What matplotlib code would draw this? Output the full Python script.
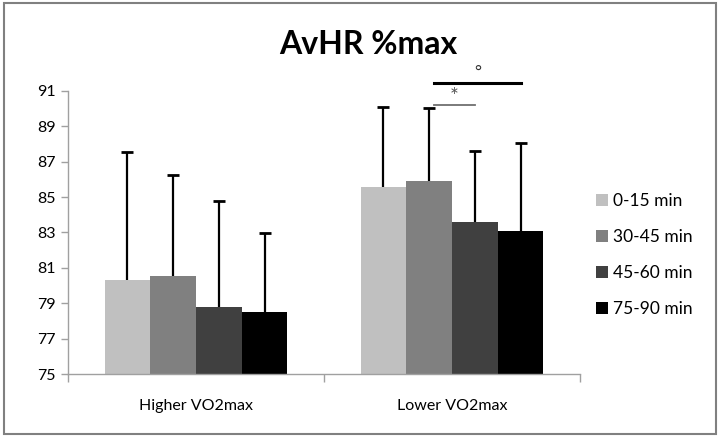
import matplotlib
matplotlib.use("Agg")
import matplotlib.pyplot as plt
import numpy as np
from matplotlib.patches import Rectangle

plt.rcParams['font.family'] = ['Lato', 'DejaVu Sans']

groups = ["Higher VO2max", "Lower VO2max"]
series = ["0-15 min", "30-45 min", "45-60 min", "75-90 min"]
colors = ["#C0C0C0", "#808080", "#404040", "#000000"]
means = {
    "0-15 min": [80.34, 85.56],
    "30-45 min": [80.57, 85.93],
    "45-60 min": [78.77, 83.61],
    "75-90 min": [78.50, 83.06],
}
sd = {
    "0-15 min": [7.19, 4.52],
    "30-45 min": [5.68, 4.09],
    "45-60 min": [6.00, 3.98],
    "75-90 min": [4.47, 5.01],
}
yticks = [75, 77, 79, 81, 83, 85, 87, 89, 91]

fig = plt.figure(figsize=(7.2, 4.37), dpi=100)
ax = fig.add_axes([0.0944, 0.1435, 0.7112, 0.649])

x = np.arange(len(groups))
width = 0.714 / len(series)
offsets = (np.arange(len(series)) - (len(series) - 1) / 2) * width
centers = {}
for name, col, off in zip(series, colors, offsets):
    pos = x + off
    centers[name] = pos
    ax.bar(pos, [m - 75 for m in means[name]], width, bottom=75, color=col,
           label=name, linewidth=0, zorder=2)
    eb = ax.errorbar(pos, means[name], yerr=[np.zeros(len(groups)), sd[name]],
                     fmt='none', ecolor='black', elinewidth=1.6, capsize=4.5,
                     capthick=2, zorder=3)
    # upper error only: hide the cap sitting on the bar top
    for cap in eb.lines[1]:
        if np.allclose(cap.get_ydata(), means[name]):
            cap.set_visible(False)

# significance markers for the lower VO2max group
x2 = centers["30-45 min"][1] + 0.02
x3 = centers["45-60 min"][1]
x4 = centers["75-90 min"][1]
ax.plot([x2, x3], [90.18, 90.18], color='#707070', lw=1.3, clip_on=False)
ax.text((x2 + x3) / 2, 90.1, "*", ha='center', va='bottom', fontsize=15,
        color='#555555')
ax.plot([x2, x4], [91.43, 91.43], color='black', lw=2.2, clip_on=False)
ax.text((x2 + x4) / 2, 91.62, "°", ha='center', va='bottom', fontsize=12,
        color='#333333')

ax.set_xlim(-0.5, 1.5)
ax.set_ylim(75, 91)
ax.set_yticks(yticks)
ax.set_yticklabels([str(t) for t in yticks], fontsize=11.5)
ax.set_xticks([-0.5, 0.5, 1.5])
ax.set_xticklabels([])
ax.tick_params(axis='x', length=6, color='#A0A0A0', width=1)
ax.tick_params(axis='y', length=5, color='#A0A0A0', width=1, pad=4)
for g, xi in zip(groups, x):
    ax.text(xi, 73.2, g, ha='center', va='center', fontsize=11.5)

for s in ['top', 'right']:
    ax.spines[s].set_visible(False)
for s in ['left', 'bottom']:
    ax.spines[s].set_color('#A0A0A0')
    ax.spines[s].set_linewidth(1)

fig.text(0.512, 0.898, "AvHR %max", ha='center', va='center', fontsize=23,
         fontweight='bold')

leg = ax.legend(loc='center left', bbox_to_anchor=(1.0, 0.42), frameon=False,
                fontsize=12.5, handlelength=0.7, handleheight=0.7,
                handletextpad=0.3, labelspacing=1.15)

fig.patches.append(Rectangle((0.006, 0.008), 0.988, 0.984, transform=fig.transFigure,
                             fill=False, edgecolor='#808080', linewidth=1.5))

fig.savefig("out.png", dpi=100)
